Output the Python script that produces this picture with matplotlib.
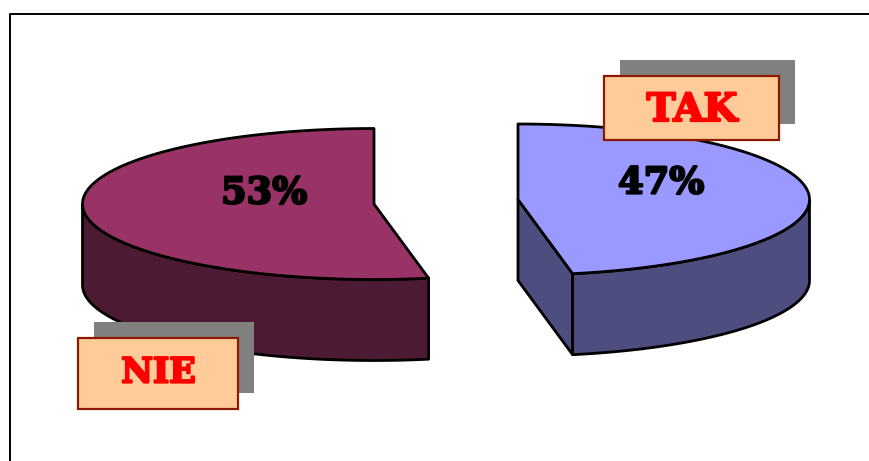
import numpy as np
import matplotlib
matplotlib.use("Agg")
import matplotlib.pyplot as plt
import matplotlib.patheffects as pe
from matplotlib.patches import Polygon, Rectangle

labels = ["NIE", "TAK"]
shares = [53, 47]
pct_labels = ["53%", "47%"]

W, H = 869, 461
fig = plt.figure(figsize=(W / 100, H / 100), dpi=100)
ax = fig.add_axes([0, 0, 1, 1])
ax.set_xlim(0, W)
ax.set_ylim(H, 0)
ax.axis("off")

RX, RY, DEPTH = 291.5, 75.5, 81
EDGE = dict(edgecolor="black", linewidth=2.0, joinstyle="round")

def arc(cx, cy, a0, a1, n=160):
    # angles measured clockwise from 12 o'clock, in degrees
    t = np.radians(np.linspace(a0, a1, n))
    return np.column_stack([cx + RX * np.sin(t), cy - RY * np.cos(t)])

def slice3d(cx, cy, a1, top, side):
    rim = arc(cx, cy, 0, a1)
    c = np.array([cx, cy])
    down = np.array([0, DEPTH])
    angles = np.linspace(0, a1, len(rim))
    front = rim[np.cos(np.radians(angles)) <= 0]
    last = rim[-1]
    # the cut wall only faces the viewer on the slice that runs clockwise
    if a1 > 0:
        ax.add_patch(Polygon(np.array([c, last, last + down, c + down]), facecolor=side, **EDGE))
    ax.add_patch(Polygon(np.vstack([front, last, last + down, front[::-1] + down]), facecolor=side, **EDGE))
    ax.add_patch(Polygon(np.vstack([c, rim]), facecolor=top, **EDGE))

# 53 % slice runs counter-clockwise from 12 o'clock; 47 % clockwise
slice3d(374, 204, -shares[0] * 3.6, "#993366", "#4D1A33")
slice3d(518, 199.5, shares[1] * 3.6, "#9999FF", "#4D4D80")

for (x, y), s in zip([(264, 193.5), (661, 183.5)], pct_labels):
    ax.text(x, y, s, fontsize=26.5, fontweight="bold", family="DejaVu Serif", ha="center",
            va="center", color="black",
            path_effects=[pe.Stroke(linewidth=1.6, foreground="black"), pe.Normal()])

# label boxes with shadows
boxes = [(78, 338, 160, 71), (604, 76, 175, 64)]
text_y = [372.5, 110]
sizes = [25, 28]
for (x, y, w, h), lab, fs, ty in zip(boxes, labels, sizes, text_y):
    ax.add_patch(Rectangle((x + 16, y - 16), w, h, facecolor="#808080", edgecolor="none"))
    ax.add_patch(Rectangle((x, y), w, h, facecolor="#FFCC99", edgecolor="#8B1A00", linewidth=1.6))
    ax.text(x + w / 2 + 0.5, ty, lab, fontsize=fs, fontweight="bold", family="DejaVu Serif",
            ha="center", va="center", color="#FF0000",
            path_effects=[pe.Stroke(linewidth=1.6, foreground="#FF0000"), pe.Normal()])

# chart frame: only top and left edges fall inside the crop
ax.plot([9.5, 9.5, W], [H, 14.5, 14.5], color="black", linewidth=1.4)

fig.savefig("out.png", dpi=100, facecolor="white")
